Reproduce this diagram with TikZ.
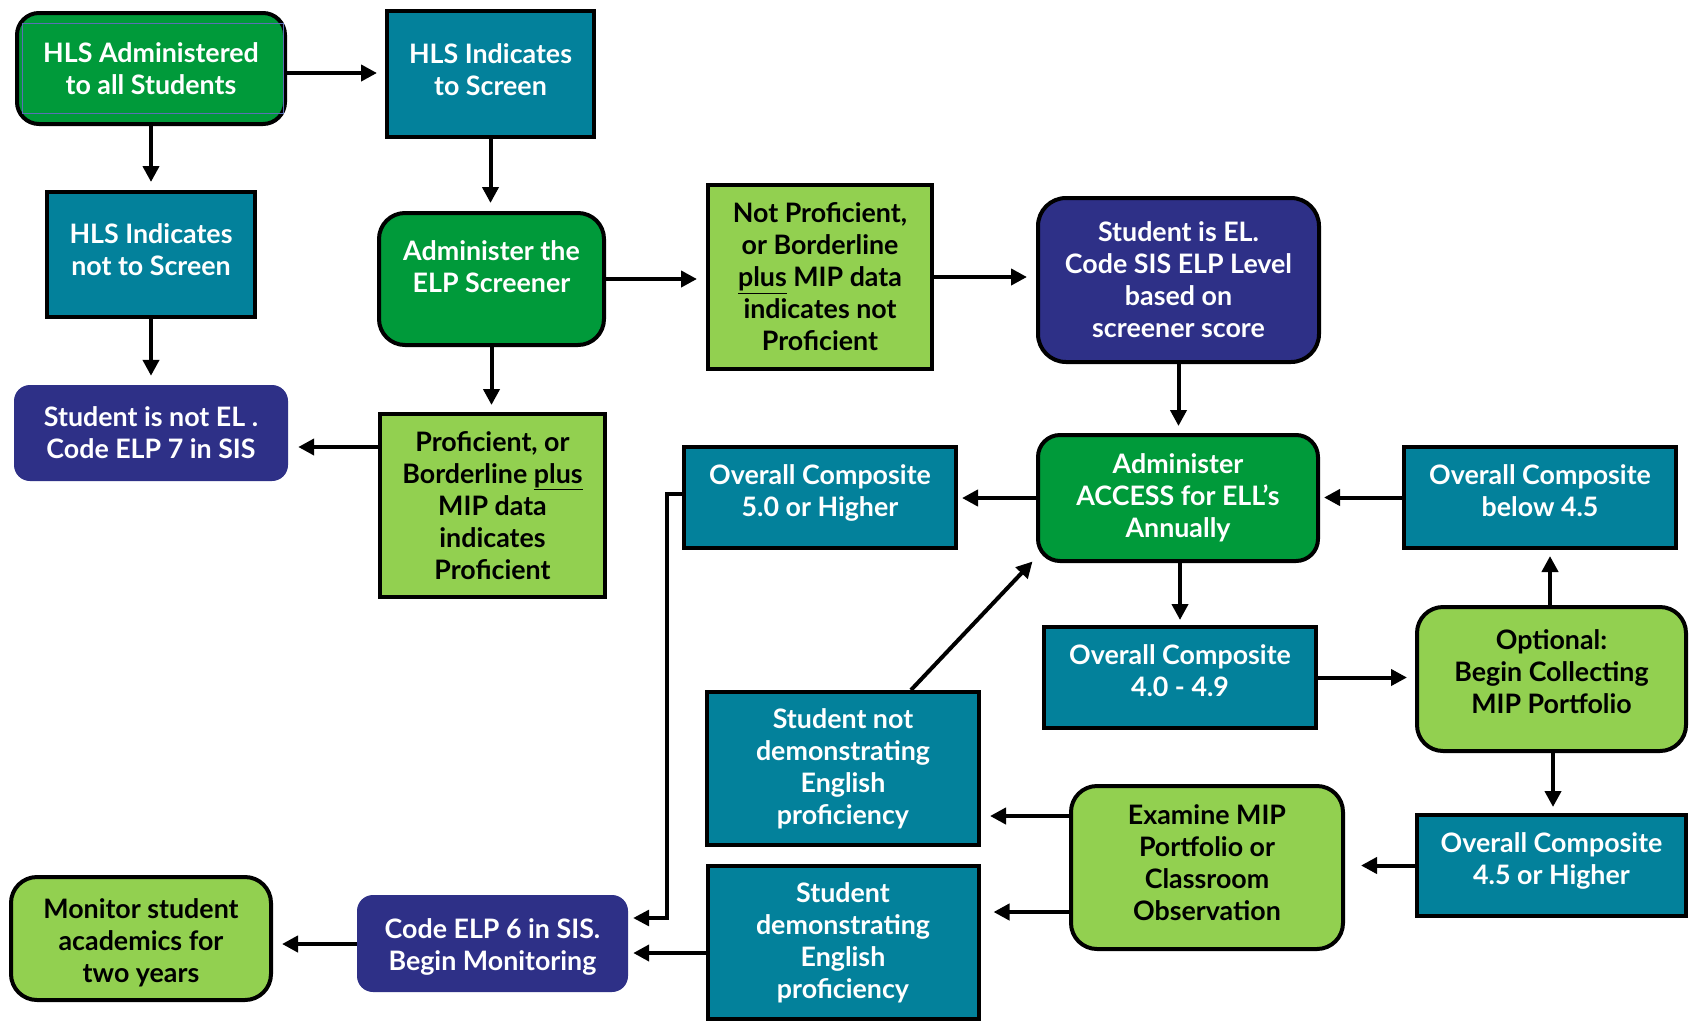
\documentclass[tikz,border=0pt]{standalone}
\usepackage{fontspec}
\setmainfont{Lato}
\usetikzlibrary{arrows.meta}
\definecolor{dkg}{HTML}{009A3A}
\definecolor{tealc}{HTML}{03819B}
\definecolor{ltg}{HTML}{92D050}
\definecolor{purc}{HTML}{2E3087}
\definecolor{innerc}{HTML}{5B6FB5}
\newcommand\fsz{\fontsize{26.8}{32}\selectfont\bfseries}
\tikzset{
  box/.style={draw=black, line width=4pt, align=center, font=\fsz, inner sep=0pt},
  tealbox/.style={box, fill=tealc, text=white},
  dgbox/.style={box, fill=dkg, text=white, rounded corners=22pt},
  lgbox/.style={box, fill=ltg, text=black},
  lgrbox/.style={box, fill=ltg, text=black, rounded corners=26pt},
  purbox/.style={align=center, font=\fsz, inner sep=0pt, fill=purc, text=white, rounded corners=16pt},
  purrbox/.style={box, fill=purc, text=white, rounded corners=28pt},
  arr/.style={line width=4pt, -{Triangle[length=16pt,width=16pt]}},
  arrthin/.style={line width=3.2pt, -{Triangle[length=16pt,width=16pt]}}
}
\begin{document}
\begin{tikzpicture}[x=1pt,y=-1pt]
\useasboundingbox[fill=white] (0,0) rectangle (1690,1021);
% nodes
\node[dgbox, minimum width=268pt, minimum height=111pt] (hlsadmin) at (151,68.5) {HLS Administered\\to all Students};
\draw[innerc, line width=1pt] (22,23.5) rectangle (283,113);
\node[tealbox, minimum width=207pt, minimum height=126pt] (hlsscreen) at (490.5,74) {HLS Indicates\\to Screen\\[-23pt]};
\node[tealbox, minimum width=208pt, minimum height=125pt] (hlsnot) at (151,254.5) {HLS Indicates\\not to Screen\\[-23pt]};
\node[purbox, minimum width=274pt, minimum height=96pt] (notel) at (151,433) {Student is not EL .\\Code ELP 7 in SIS};
\node[dgbox, minimum width=225pt, minimum height=132pt, rounded corners=26pt] (elpscr) at (491.5,279) {Administer the\\ELP Screener\\[-8pt]};
\node[lgbox, minimum width=225pt, minimum height=183pt] (prof) at (492.5,505.5) {Proficient, or\\Borderline \underline{plus}\\MIP data\\indicates\\Proficient};
\node[lgbox, minimum width=224pt, minimum height=184pt] (notprof) at (820,277) {Not Proficient,\\or Borderline\\\underline{plus} MIP data\\indicates not\\Proficient};
\node[purrbox, minimum width=281pt, minimum height=164pt] (isel) at (1178.5,280) {Student is EL.\\Code SIS ELP Level\\based on\\screener score};
\node[dgbox, minimum width=280pt, minimum height=126pt] (access) at (1178,498) {Administer\\ACCESS for ELL’s\\Annually};
\node[tealbox, minimum width=272pt, minimum height=101pt] (cfive) at (820,497.5) {Overall Composite\\5.0 or Higher\\[-18pt]};
\node[tealbox, minimum width=272pt, minimum height=101pt] (cbelow) at (1540,497.5) {Overall Composite\\below 4.5\\[-18pt]};
\node[tealbox, minimum width=272pt, minimum height=101pt] (cfour) at (1180,677.5) {Overall Composite\\4.0 - 4.9\\[-18pt]};
\node[lgrbox, minimum width=269pt, minimum height=144pt] (optional) at (1551.5,679) {Optional:\\Begin Collecting\\MIP Portfolio\\[-18pt]};
\node[tealbox, minimum width=269pt, minimum height=101pt] (chigh) at (1551.5,865.5) {Overall Composite\\4.5 or Higher\\[-18pt]};
\node[lgrbox, minimum width=272pt, minimum height=163pt] (examine) at (1207,867.5) {Examine MIP\\Portfolio or\\Classroom\\Observation\\[-23pt]};
\node[tealbox, minimum width=272pt, minimum height=153pt] (notdemo) at (843,768.5) {Student not\\demonstrating\\English\\proficiency};
\node[tealbox, minimum width=271pt, minimum height=153pt] (demo) at (843,942.5) {Student\\demonstrating\\English\\proficiency};
\node[purbox, minimum width=271pt, minimum height=97pt] (elpsix) at (492.5,943.5) {\rule{0pt}{26pt}Code ELP 6 in SIS.\\Begin Monitoring};
\node[lgrbox, minimum width=260pt, minimum height=123pt] (monitor) at (141,938.5) {\rule{0pt}{28pt}Monitor student\\academics for\\two years};
% connectors
\draw[arr, shorten >=8pt] (hlsadmin.east |- 0,73) -- (hlsscreen.west |- 0,73);
\draw[arr, shorten >=8pt] (hlsadmin.south) -- (hlsnot.north);
\draw[arr, shorten >=9pt] (hlsnot.south) -- (notel.north);
\draw[arr, shorten >=8pt] (hlsscreen.south) -- (hlsscreen.south |- elpscr.north);
\draw[arr, shorten >=9pt] (elpscr.east) -- (elpscr.east -| notprof.west);
\draw[arr, shorten >=9pt] (notprof.east) -- (notprof.east -| isel.west);
\draw[arr, shorten >=7pt] (elpscr.south) -- (elpscr.south |- prof.north);
\draw[arr, shorten >=10pt] (prof.west |- 0,447) -- (notel.east |- 0,447);
\draw[arr, shorten >=7pt] (isel.south) -- (isel.south |- access.north);
\draw[arr, shorten >=4pt] (access.west) -- (access.west -| cfive.east);
\draw[arr, shorten >=4pt] (cbelow.west) -- (cbelow.west -| access.east);
\draw[arr, shorten >=5pt] (access.south -| cfour.north) -- (cfour.north);
\draw[arr, shorten >=8pt] (cfour.east) -- (cfour.east -| optional.west);
\draw[arr, shorten >=6pt] (optional.north -| 1550,0) -- (cbelow.south -| 1550,0);
\draw[arr, shorten >=6pt] (optional.south -| 1553,0) -- (chigh.north -| 1553,0);
\draw[arr, shorten >=16pt] (chigh.west) -- (chigh.west -| examine.east);
\draw[arr, shorten >=9pt] (examine.west |- 0,816) -- (notdemo.east |- 0,816);
\draw[arr, shorten >=13pt] (examine.west |- 0,912) -- (demo.east |- 0,912);
\draw[arr] ([xshift=68pt]notdemo.north) -- ([shift={(-3.5,-1.5)}]access.south west);
\coordinate (bend) at (667,494);
\draw[arrthin, shorten >=5pt] (cfive.west |- bend) -- (bend) |- (elpsix.east |- 0,918);
\draw[arr, shorten >=5pt] (demo.west |- 0,953) -- (elpsix.east |- 0,953);
\draw[arr, shorten >=9pt] (elpsix.west |- 0,944) -- (monitor.east |- 0,944);
\end{tikzpicture}
\end{document}
